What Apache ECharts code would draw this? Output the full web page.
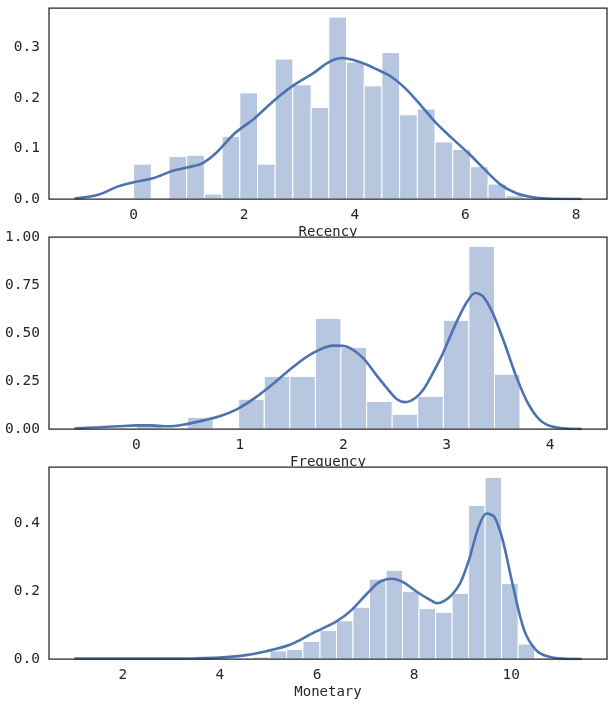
<!DOCTYPE html>
<html><head><meta charset="utf-8">
<script src="https://cdn.jsdelivr.net/npm/echarts@6/dist/echarts.min.js"></script>
<style>html,body{margin:0;padding:0;background:#fff}#c{width:613px;height:708px}</style>
</head><body><div id="c"></div>
<script>
// ---------- Recency ----------
const recencyEdges = [0, 0.32, 0.64, 0.96, 1.28, 1.60, 1.92, 2.24, 2.56, 2.88, 3.21, 3.53, 3.85, 4.17, 4.49, 4.81, 5.13, 5.45, 5.77, 6.09, 6.41, 6.73, 7.05];
const recencyHeights = [0.069, 0, 0.084, 0.0866, 0.0098, 0.124, 0.210, 0.069, 0.277, 0.226, 0.181, 0.360, 0.271, 0.224, 0.290, 0.1666, 0.178, 0.113, 0.098, 0.064, 0.0295, 0.0066];
const recencyKdeX = [-1.07, -0.64, -0.28, 0, 0.35, 0.71, 0.99, 1.23, 1.48, 1.83, 2.19, 2.54, 2.89, 3.25, 3.53, 3.78, 4.09, 4.37, 4.66, 4.94, 5.22, 5.50, 5.79, 6.07, 6.35, 6.63, 6.91, 7.19, 7.48, 8.1];
const recencyKdeY = [0.001, 0.0085, 0.025, 0.033, 0.041, 0.056, 0.063, 0.070, 0.090, 0.130, 0.160, 0.195, 0.225, 0.249, 0.271, 0.279, 0.271, 0.258, 0.242, 0.216, 0.182, 0.147, 0.117, 0.089, 0.058, 0.029, 0.012, 0.004, 0.001, 0.0];
const recencyXTicks = [0, 2, 4, 6, 8];
const recencyYTicks = [0, 0.1, 0.2, 0.3];

// ---------- Frequency ----------
const frequencyEdges = [0, 0.247, 0.495, 0.742, 0.989, 1.236, 1.484, 1.731, 1.978, 2.226, 2.473, 2.720, 2.968, 3.215, 3.462, 3.709];
const frequencyHeights = [0.024, 0, 0.061, 0, 0.155, 0.274, 0.274, 0.576, 0.425, 0.144, 0.076, 0.170, 0.566, 0.951, 0.285];
const frequencyKdeX = [-0.6, -0.366, -0.177, 0, 0.125, 0.3, 0.45, 0.653, 0.804, 0.975, 1.143, 1.332, 1.521, 1.709, 1.898, 2.011, 2.10, 2.20, 2.30, 2.42, 2.52, 2.60, 2.70, 2.78, 2.87, 2.96, 3.04, 3.12, 3.20, 3.275, 3.351, 3.445, 3.558, 3.672, 3.785, 3.898, 4.011, 4.162, 4.306];
const frequencyKdeY = [0.003, 0.009, 0.014, 0.019, 0.019, 0.014, 0.022, 0.045, 0.066, 0.104, 0.161, 0.240, 0.326, 0.396, 0.434, 0.432, 0.410, 0.365, 0.295, 0.214, 0.155, 0.140, 0.163, 0.210, 0.295, 0.390, 0.490, 0.585, 0.665, 0.708, 0.691, 0.604, 0.448, 0.274, 0.135, 0.049, 0.014, 0.002, 0];
const frequencyXTicks = [0, 1, 2, 3, 4];
const frequencyYTicks = [0, 0.25, 0.5, 0.75, 1.0];

// ---------- Monetary ----------
const monetaryEdges = [1.97, 2.31, 2.65, 2.99, 3.33, 3.67, 4.01, 4.35, 4.69, 5.03, 5.37, 5.71, 6.06, 6.40, 6.74, 7.08, 7.42, 7.76, 8.10, 8.44, 8.78, 9.12, 9.46, 9.80, 10.14, 10.48];
const monetaryHeights = [0.001, 0, 0, 0, 0, 0.001, 0.001, 0.002, 0.006, 0.024, 0.028, 0.052, 0.084, 0.113, 0.153, 0.236, 0.262, 0.200, 0.149, 0.138, 0.194, 0.454, 0.537, 0.223, 0.044];
const monetaryKdeX = [1.0, 2.707, 3.51, 3.99, 4.47, 4.96, 5.44, 5.92, 6.40, 6.72, 7.04, 7.28, 7.53, 7.77, 8.09, 8.30, 8.47, 8.62, 8.78, 8.95, 9.13, 9.33, 9.49, 9.65, 9.82, 10.02, 10.26, 10.50, 10.74, 11.06, 11.45];
const monetaryKdeY = [0.001, 0.001, 0.002, 0.004, 0.010, 0.023, 0.042, 0.077, 0.111, 0.146, 0.195, 0.227, 0.237, 0.227, 0.195, 0.177, 0.165, 0.172, 0.190, 0.225, 0.294, 0.392, 0.430, 0.420, 0.353, 0.225, 0.087, 0.028, 0.008, 0.001, 0];
const monetaryXTicks = [2, 4, 6, 8, 10];
const monetaryYTicks = [0, 0.2, 0.4];

const panels = [
  {name: 'Recency', edges: recencyEdges, h: recencyHeights, kx: recencyKdeX, ky: recencyKdeY, xt: recencyXTicks, yt: recencyYTicks, xmin: -1.53, xmax: 8.56, ymax: 0.378, dec: 1, top: 8, height: 191},
  {name: 'Frequency', edges: frequencyEdges, h: frequencyHeights, kx: frequencyKdeX, ky: frequencyKdeY, xt: frequencyXTicks, yt: frequencyYTicks, xmin: -0.845, xmax: 4.55, ymax: 1.0, dec: 2, top: 237, height: 192},
  {name: 'Monetary', edges: monetaryEdges, h: monetaryHeights, kx: monetaryKdeX, ky: monetaryKdeY, xt: monetaryXTicks, yt: monetaryYTicks, xmin: 0.48, xmax: 11.97, ymax: 0.5675, dec: 1, top: 467, height: 192}
];

const LEFT = 49, WIDTH = 558;
const FONT = "'DejaVu Sans Mono', monospace";
const TXT = '#262626';
const BAR = 'rgba(76,114,176,0.4)';
const LINE = '#4C72B0';

const grids = [], xAxes = [], yAxes = [], series = [], graphics = [];
panels.forEach((p, i) => {
  grids.push({left: LEFT, width: WIDTH, top: p.top, height: p.height, containLabel: false});
  xAxes.push({
    type: 'value', gridIndex: i, min: p.xmin, max: p.xmax,
    name: p.name, nameLocation: 'middle', nameGap: 26,
    nameTextStyle: {fontFamily: FONT, fontSize: 14, color: TXT},
    axisLine: {show: false}, axisTick: {show: false}, splitLine: {show: false},
    axisLabel: {customValues: p.xt, fontFamily: FONT, fontSize: 14.5, color: TXT, margin: 9,
      formatter: v => String(Math.round(v))}
  });
  yAxes.push({
    type: 'value', gridIndex: i, min: 0, max: p.ymax,
    axisLine: {show: false}, axisTick: {show: false}, splitLine: {show: false},
    axisLabel: {customValues: p.yt, fontFamily: FONT, fontSize: 14.5, color: TXT, margin: 9,
      formatter: v => v.toFixed(p.dec)}
  });
  const bins = p.h.map((h, k) => [p.edges[k], p.edges[k + 1], h]);
  series.push({
    type: 'custom', xAxisIndex: i, yAxisIndex: i, z: 2,
    data: bins, encode: {x: [0, 1], y: 2},
    renderItem: (params, api) => {
      const a = api.coord([api.value(0), api.value(2)]);
      const b = api.coord([api.value(1), 0]);
      return {type: 'rect', shape: {x: a[0], y: a[1], width: b[0] - a[0], height: b[1] - a[1]},
        style: {fill: BAR, stroke: '#ffffff', lineWidth: 1}};
    }
  });
  series.push({
    type: 'line', xAxisIndex: i, yAxisIndex: i, z: 3,
    data: p.kx.map((x, k) => [x, p.ky[k]]),
    smooth: 0.3, showSymbol: false, symbol: 'none',
    lineStyle: {color: LINE, width: 2.6}, silent: true
  });
  graphics.push({type: 'rect', z: 1, shape: {x: LEFT, y: p.top, width: WIDTH, height: p.height}, style: {fill: '#ffffff'}, silent: true});
  graphics.push({type: 'rect', z: 10, shape: {x: LEFT, y: p.top, width: WIDTH, height: p.height}, style: {fill: 'none', stroke: '#262626', lineWidth: 1.25}, silent: true});
});

const chart = echarts.init(document.getElementById('c'), null, {renderer: 'canvas'});
chart.setOption({
  animation: false,
  backgroundColor: '#ffffff',
  grid: grids, xAxis: xAxes, yAxis: yAxes, series: series,
  graphic: graphics
});
</script></body></html>
